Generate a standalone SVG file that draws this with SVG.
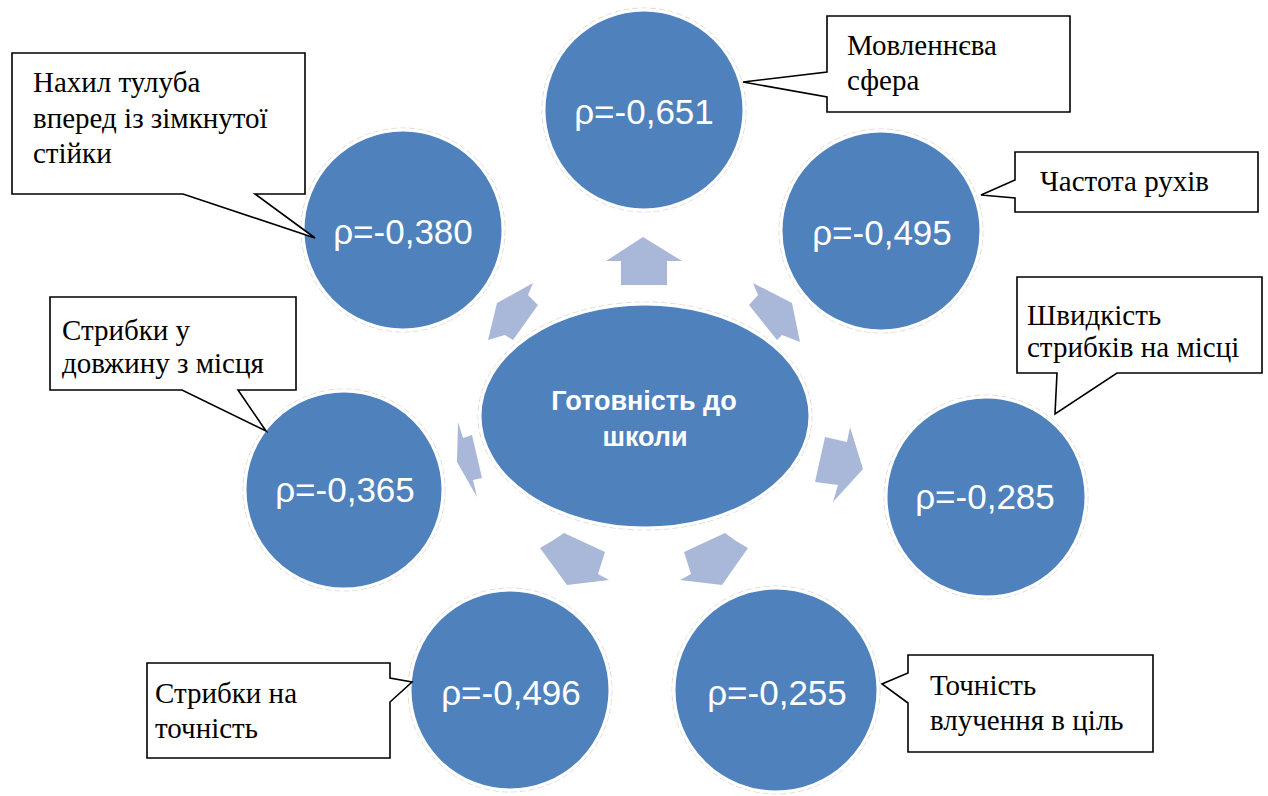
<svg xmlns="http://www.w3.org/2000/svg" width="1268" height="796" viewBox="0 0 1268 796">
  <style>
    .disc { fill: #4F81BD; stroke: #FFFFFF; stroke-width: 3; }
    .halo { fill: none; stroke: #E2DCD5; stroke-width: 1; stroke-dasharray: 6 3; }
    .val { font-family: "Liberation Sans", Arial, sans-serif; font-size: 35px; fill: #FFFFFF; text-anchor: middle; }
    .hub { font-family: "Liberation Sans", Arial, sans-serif; font-size: 27px; font-weight: bold; fill: #FFFFFF; text-anchor: middle; }
    .arrow { fill: #A9B8D9; }
    .callout { fill: #FFFFFF; stroke: #000000; stroke-width: 1.6; stroke-linejoin: miter; }
    .note { font-family: "Liberation Serif", "Times New Roman", serif; font-size: 29px; fill: #000000; }
  </style>

  <!-- outer value circles -->
  <g id="node-speech">
    <circle class="halo" cx="644" cy="110" r="102"/>
    <circle class="disc" cx="644" cy="110" r="100"/>
    <text class="val" x="644" y="124">ρ=-0,651</text>
  </g>
  <g id="node-bend">
    <circle class="halo" cx="403" cy="230" r="102"/>
    <circle class="disc" cx="403" cy="230" r="100"/>
    <text class="val" x="403" y="244">ρ=-0,380</text>
  </g>
  <g id="node-frequency">
    <circle class="halo" cx="881" cy="231" r="102"/>
    <circle class="disc" cx="881" cy="231" r="100"/>
    <text class="val" x="882" y="245">ρ=-0,495</text>
  </g>
  <g id="node-long-jump">
    <circle class="halo" cx="344" cy="490" r="101"/>
    <circle class="disc" cx="344" cy="490" r="99"/>
    <text class="val" x="345" y="502">ρ=-0,365</text>
  </g>
  <g id="node-jump-speed">
    <circle class="halo" cx="986" cy="497" r="102"/>
    <circle class="disc" cx="986" cy="497" r="100"/>
    <text class="val" x="985" y="509">ρ=-0,285</text>
  </g>
  <g id="node-jump-accuracy">
    <circle class="halo" cx="510" cy="690" r="102"/>
    <circle class="disc" cx="510" cy="690" r="100"/>
    <text class="val" x="511" y="705">ρ=-0,496</text>
  </g>
  <g id="node-target">
    <circle class="halo" cx="776" cy="690" r="104"/>
    <circle class="disc" cx="776" cy="690" r="102"/>
    <text class="val" x="777" y="705">ρ=-0,255</text>
  </g>

  <!-- central node -->
  <g id="node-readiness">
    <ellipse class="halo" cx="645" cy="416" rx="167" ry="114"/>
    <ellipse class="disc" cx="645" cy="416" rx="165" ry="112"/>
    <text class="hub" x="644" y="410">Готовність до</text>
    <text class="hub" x="645" y="446">школи</text>
  </g>

  <!-- block arrows radiating from the centre -->
  <g id="connectors">
    <polygon class="arrow" points="643,237 682,261 667,261 667,285 621,285 621,261 606,261"/>
    <polygon class="arrow" points="753,283 758,295 749,305 777,340 782,335 800,342 792,303"/>
    <polygon class="arrow" points="533,283 528,295 538,305 513,340 505,335 488,340 497,303"/>
    <polygon class="arrow" points="850,427 847,442 825,437 815,482 838,485 833,502 863,469"/>
    <polygon class="arrow" points="458,422 463,438 472,435 482,478 473,480 477,497 457,462"/>
    <polygon class="arrow" points="540,548 552,541 564,533 605,552 598,574 609,580 567,585"/>
    <polygon class="arrow" points="748,548 736,541 725,533 684,552 691,574 680,580 722,585"/>
  </g>

  <!-- callout labels -->
  <g id="label-bend">
    <path class="callout" d="M12,53 H305 V194 H255 L315,238 L183,194 H12 Z"/>
    <text class="note" x="33" y="92">Нахил тулуба</text>
    <text class="note" x="33" y="128">вперед із зімкнутої</text>
    <text class="note" x="33" y="163">стійки</text>
  </g>
  <g id="label-speech">
    <path class="callout" d="M827,16 H1070 V112 H827 V97 L743,82 L827,72 Z"/>
    <text class="note" x="847" y="55">Мовленнєва</text>
    <text class="note" x="847" y="90">сфера</text>
  </g>
  <g id="label-frequency">
    <path class="callout" d="M1015,152 H1258 V212 H1015 V198 L981,195 L1015,180 Z"/>
    <text class="note" x="1040" y="191">Частота рухів</text>
  </g>
  <g id="label-jump-speed">
    <path class="callout" d="M1017,277 H1262 V373 H1117 L1055,414 L1057,373 H1017 Z"/>
    <text class="note" x="1027" y="325">Швидкість</text>
    <text class="note" x="1027" y="357">стрибків на місці</text>
  </g>
  <g id="label-long-jump">
    <path class="callout" d="M50,297 H296 V390 H238 L266,431 L182,390 H50 Z"/>
    <text class="note" x="62" y="340">Стрибки у</text>
    <text class="note" x="62" y="373">довжину з місця</text>
  </g>
  <g id="label-jump-accuracy">
    <path class="callout" d="M147,663 H390 V678 L412,682 L390,702 V758 H147 Z"/>
    <text class="note" x="155" y="703">Стрибки на</text>
    <text class="note" x="155" y="738">точність</text>
  </g>
  <g id="label-target">
    <path class="callout" d="M908,655 H1153 V752 H908 V703 L882,684 L908,673 Z"/>
    <text class="note" x="930" y="695">Точність</text>
    <text class="note" x="930" y="730">влучення в ціль</text>
  </g>
</svg>
